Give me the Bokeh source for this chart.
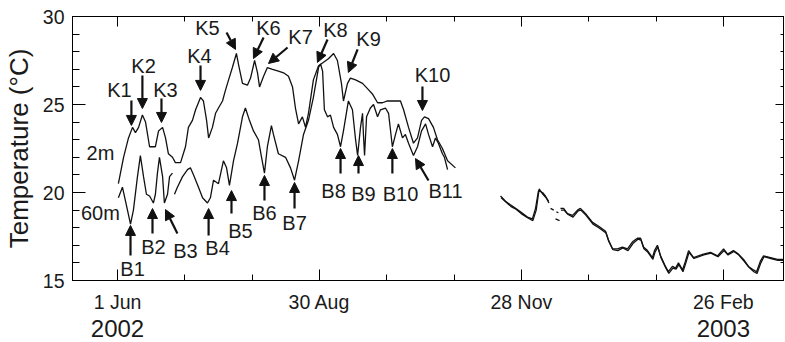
import numpy as np
from bokeh.plotting import figure
from bokeh.models import Range1d, FixedTicker, LinearAxis, Arrow, NormalHead, ColumnDataSource
from bokeh.embed import file_html
from bokeh.resources import INLINE
from bokeh.core.properties import value

FONT = "Liberation Sans"
nan = float("nan")

# time in days since 1 Jun 2002
day_2m = [0.4, 2.7, 4.9, 6.7, 8.0, 9.4, 11.1, 12.5, 14.3, 16.9, 18.3, 20.1, 21.4, 22.7, 24.5, 25.8,
          28.1, 30.3, 31.6, 33.4, 34.8, 37.0, 38.3, 39.7, 40.6, 42.3, 43.7, 45.0, 46.8, 48.1, 49.5,
          51.2, 53.0, 53.9, 55.7, 57.9, 59.3, 61.1, 62.4, 63.3, 65.1, 66.8, 69.1, 71.7, 74.0, 76.2,
          78.0, 79.3, 80.7, 82.4, 83.8, 85.1, 87.3, 89.6, 91.8, 94.0, 96.3, 98.0, 99.8, 100.7, 102.5,
          103.8, 106.1, 109.2, 111.4, 113.6, 115.9, 118.1, 120.3, 123.0, 126.1, 127.5, 129.7, 131.9,
          133.7, 135.5, 136.8, 138.6, 140.8, 142.6, 144.8, 147.1, 150.6]
temp_2m = [20.5, 22.0, 23.1, 23.7, 23.4, 23.7, 24.4, 24.0, 22.6, 22.6, 23.5, 23.7, 23.1, 22.2, 22.0, 21.7,
           21.7, 22.6, 23.7, 24.1, 24.7, 25.4, 25.2, 24.1, 23.1, 23.7, 24.5, 24.8, 25.2, 25.8, 26.4,
           27.1, 27.9, 27.3, 26.2, 26.1, 26.5, 27.5, 26.8, 26.0, 26.6, 27.1, 27.0, 26.9, 26.8, 26.6,
           26.0, 24.8, 23.9, 24.3, 23.7, 24.5, 26.4, 27.2, 27.4, 27.6, 27.9, 27.5, 26.2, 25.2, 26.2,
           26.5, 26.4, 26.2, 25.9, 25.6, 25.1, 25.1, 25.2, 25.2, 25.2, 24.7, 23.7, 22.8,
           23.1, 24.1, 24.3, 24.2, 23.7, 23.0, 22.5, 21.8, 21.4]

day_60m = [0.4, 2.2, 3.6, 5.8, 7.1, 8.9, 10.2, 11.6, 12.9, 14.3, 16.0, 16.9, 17.8, 18.7, 20.1, 20.9,
           22.3, 23.2, 24.5, nan, 25.4, 26.7, 29.0, 31.2, 32.5, 33.9, 36.1, 37.9, 40.1, 41.4, 42.8,
           45.0, 47.2, 48.6, 49.9, 51.7, 53.5, 55.7, 57.0, 58.8, 60.6, 62.8, 64.2, 65.5, 66.8, 68.6,
           69.5, 71.7, 74.9, 77.1, 78.9, 80.7, 82.9, 85.1, 87.3, 89.6, 90.5, 91.4, 92.2, 93.6, 94.9,
           96.3, 98.0, 99.4, 100.7, 102.9, 104.7, 106.1, 107.0, 108.3, 109.2, 109.6, 110.1, 111.0,
           112.7, 114.1, 115.9, 117.2, 119.4, 120.8, 122.5, 123.9, 125.2, 127.0, 128.3, 129.7, 131.9,
           133.7, 135.5, 137.3, 138.6, 140.4, 141.7, 143.0, 144.8, 145.7, 147.1]
temp_60m = [19.7, 20.3, 19.5, 18.2, 19.0, 20.9, 22.1, 20.9, 19.9, 19.8, 19.4, 19.9, 21.1, 22.0, 20.9, 19.4,
            19.9, 20.9, 21.1, nan, 19.9, 20.3, 20.9, 21.3, 21.4, 21.0, 20.3, 19.7, 19.4, 19.7, 20.7,
            20.5, 21.8, 21.4, 20.4, 21.8, 22.8, 24.3, 24.8, 24.1, 23.5, 23.0, 22.0, 21.1, 22.6, 23.8,
            23.3, 22.2, 22.0, 21.4, 20.7, 21.8, 23.3, 24.1, 25.4, 27.1, 27.3, 26.9, 24.7, 24.3, 24.4,
            23.7, 23.3, 22.6, 23.5, 25.2, 24.7, 23.0, 22.1, 23.7, 24.5, 23.3, 22.1, 24.3,
            24.8, 25.0, 24.3, 24.7, 24.8, 24.5, 22.6, 23.3, 23.9, 23.1, 23.3, 22.8, 22.1,
            22.6, 23.5, 23.9, 23.3, 22.6, 23.1, 22.8, 22.2, 22.0, 21.3]

day_2m_winter = [170.7, 172.9, 175.1, 177.4, 179.6, 182.7, 184.9, 186.3, 187.6, 189.4, 190.7, 192.1, nan,
                 193.0, 194.4, nan, 195.6, 196.5, nan, 197.4, 198.8, 200.5, 202.8, 205.0, 206.3, 208.6,
                 211.7, 214.3, 217.5, 218.8, 220.6, 222.8, 225.0, 227.3, 229.5, 231.7, 233.1, 234.4,
                 236.2, 238.4, 239.3, 240.6, 242.0, 244.2, 245.5, 247.3, 248.7, 250.0, 251.8, 253.1,
                 254.5, 256.7, 258.9, 261.1, 264.3, 267.4, 270.1, 271.9, 274.5, 276.7, 279.0, 281.2,
                 283.4, 284.8, 286.5, 287.9, 291.0, 294.1, 296.8]
temp_2m_winter = [19.8, 19.5, 19.3, 19.1, 18.9, 18.6, 18.5, 19.1, 20.1, 20.0, 19.8, 19.5, nan,
                  19.1, 19.0, nan, 18.9, 18.85, nan, 19.1, 19.1, 18.8, 18.7, 19.0, 19.1, 18.8,
                  18.3, 18.1, 17.8, 17.3, 16.8, 16.8, 16.9, 16.8, 17.2, 17.4, 17.4, 16.9,
                  16.7, 16.3, 16.7, 17.0, 16.4, 15.8, 15.5, 15.8, 15.7, 16.0, 15.6, 16.1,
                  16.7, 16.3, 16.4, 16.5, 16.6, 16.4, 16.8, 16.5, 16.7, 16.5, 16.2, 15.8,
                  15.6, 15.5, 16.1, 16.4, 16.3, 16.2, 16.2]

day_60m_winter = [171.0, 173.2, 175.4, 177.6, 179.9, 182.9, 185.1, 186.6, 187.9, 189.6, 191.0, 192.3, nan,
                  195.2, 197.0, nan, 197.6, 199.0, 200.8, 203.0, 205.2, 206.5, 208.8, 211.9, 214.5,
                  217.7, 219.0, 220.8, 223.0, 225.2, 227.5, 229.7, 231.9, 233.3, 234.6, 236.4, 238.6,
                  239.5, 240.8, 242.2, 244.4, 245.7, 247.5, 248.9, 250.2, 252.0, 253.3, 254.7, 256.9,
                  259.1, 261.3, 264.5, 267.6, 270.3, 272.1, 274.7, 276.9, 279.2, 281.4, 283.6, 285.0,
                  286.7, 288.1, 291.2, 294.3, 296.8]
temp_60m_winter = [19.7, 19.45, 19.2, 19.05, 18.8, 18.55, 18.4, 19.0, 20.2, 19.9, 19.7, 19.4, nan,
                   18.5, 18.4, nan, 19.0, 19.0, 18.75, 18.6, 18.95, 19.0, 18.7, 18.2, 18.0,
                   17.7, 17.2, 16.75, 16.7, 16.85, 16.7, 17.1, 17.35, 17.3, 16.8, 16.6, 16.2,
                   16.6, 16.9, 16.3, 15.7, 15.4, 15.7, 15.65, 15.9, 15.5, 16.0, 16.6, 16.25,
                   16.35, 16.45, 16.55, 16.35, 16.7, 16.45, 16.65, 16.45, 16.1, 15.75, 15.5, 15.4,
                   16.0, 16.35, 16.25, 16.15, 16.15]

tick_days = [0, 90, 180, 270]
tick_labels = ["1 Jun", "30 Aug", "28 Nov", "26 Feb"]
minor_tick_days = [0, 30, 60, 90, 120, 150, 180, 210, 240, 270]
year_days = [0, 270]
year_labels = ["2002", "2003"]
y_ticks = [15, 20, 25, 30]
y_minor = list(range(15, 31))

# event annotations: label, label position, arrow tail, arrow tip (day, degC)
ann_labels = ["K1", "K2", "K3", "K4", "K5", "K6", "K7", "K8", "K9", "K10",
              "B1", "B2", "B3", "B4", "B5", "B6", "B7", "B8", "B9", "B10", "B11"]
ann_text_day = [0.9, 11.6, 21.4, 36.5, 40.1, 67.3, 81.6, 97.1, 111.9, 140.4,
                6.7, 16.0, 30.3, 44.6, 54.8, 65.5, 78.9, 96.3, 109.6, 126.1, 146.2]
ann_text_temp = [25.85, 27.16, 25.85, 27.78, 29.32, 29.32, 28.86, 29.26, 28.75, 26.65,
                 15.68, 16.88, 16.70, 16.82, 17.84, 18.81, 18.24, 20.11, 19.94, 19.94, 20.11]
ann_tail_day = [6.2, 11.1, 19.6, 37.0, 48.6, 65.1, 75.8, 93.6, 107.0, 135.9,
                5.8, 15.6, 26.7, 40.6, 50.8, 65.5, 78.9, 99.4, 107.4, 122.5, 138.6]
ann_tail_temp = [25.23, 26.65, 25.34, 27.22, 29.09, 28.81, 28.24, 28.69, 28.13, 26.02,
                 16.42, 17.67, 17.67, 17.56, 18.81, 19.55, 19.09, 21.08, 21.08, 21.08, 20.68]
ann_tip_day = [6.2, 11.1, 19.6, 37.0, 52.6, 60.6, 67.3, 89.1, 102.9, 135.9,
               5.8, 15.6, 21.4, 40.6, 50.8, 65.5, 78.9, 99.4, 107.4, 122.5, 132.8]
ann_tip_temp = [23.81, 24.77, 23.98, 25.80, 28.13, 27.61, 27.33, 27.39, 26.82, 24.66,
                18.13, 19.09, 19.03, 19.09, 20.11, 20.97, 20.57, 22.50, 22.10, 22.50, 21.93]

depth_labels = ["2m", "60m"]
depth_label_day = [-7.6, -7.6]
depth_label_temp = [22.22, 18.81]

p = figure(width=785, height=342, output_backend="svg", toolbar_location=None,
           x_range=Range1d(-20.05, 296.8), y_range=Range1d(15, 30),
           x_axis_type=None, y_axis_type=None,
           min_border_left=72, min_border_right=2, min_border_top=16, min_border_bottom=62)
p.background_fill_color = "white"
p.border_fill_color = "white"
p.outline_line_color = "black"
p.outline_line_width = 1
p.xgrid.visible = False
p.ygrid.visible = False

def style_common(ax):
    ax.axis_line_color = "black"
    ax.axis_line_width = 1
    ax.major_tick_line_color = "black"
    ax.minor_tick_line_color = "black"
    ax.major_tick_out = 0
    ax.minor_tick_out = 0
    ax.major_label_text_font = FONT
    ax.major_label_text_color = "#1a1a1a"

xb = LinearAxis(ticker=FixedTicker(ticks=tick_days, minor_ticks=minor_tick_days),
                major_label_overrides={d: l for d, l in zip(tick_days, tick_labels)})
style_common(xb)
xb.major_tick_in = 11
xb.minor_tick_in = 6
xb.major_label_standoff = 10
xb.major_label_text_font_size = "19.5px"
p.add_layout(xb, "below")

xyear = LinearAxis(ticker=FixedTicker(ticks=year_days, minor_ticks=[]),
                   major_label_overrides={d: l for d, l in zip(year_days, year_labels)})
style_common(xyear)
xyear.axis_line_color = None
xyear.major_tick_line_color = None
xyear.minor_tick_line_color = None
xyear.major_label_standoff = 4
xyear.major_label_text_font_size = "24px"
p.add_layout(xyear, "below")

xt = LinearAxis(ticker=FixedTicker(ticks=tick_days, minor_ticks=minor_tick_days))
style_common(xt)
xt.major_tick_in = 10
xt.minor_tick_in = 5
xt.major_label_standoff = 0
xt.major_label_text_font_size = "0px"
xt.major_label_text_color = None
p.add_layout(xt, "above")

yl = LinearAxis(ticker=FixedTicker(ticks=y_ticks, minor_ticks=y_minor),
                axis_label="Temperature (°C)")
style_common(yl)
yl.major_tick_in = 13
yl.minor_tick_in = 7
yl.major_label_standoff = 8
yl.major_label_text_font_size = "19.5px"
yl.axis_label_text_font = FONT
yl.axis_label_text_font_size = "26px"
yl.axis_label_text_font_style = "normal"
yl.axis_label_text_color = "#1a1a1a"
yl.axis_label_standoff = 6
p.add_layout(yl, "left")

yr = LinearAxis(ticker=FixedTicker(ticks=y_ticks, minor_ticks=y_minor))
style_common(yr)
yr.major_tick_in = 8
yr.minor_tick_in = 3
yr.major_label_standoff = 0
yr.major_label_text_font_size = "0px"
yr.major_label_text_color = None
p.add_layout(yr, "right")

line_kw = dict(line_color="#111111", line_width=1.3)
p.line(np.array(day_2m), np.array(temp_2m), **line_kw)
p.line(np.array(day_60m), np.array(temp_60m), **line_kw)
p.line(np.array(day_2m_winter), np.array(temp_2m_winter), **line_kw)
p.line(np.array(day_60m_winter), np.array(temp_60m_winter), **line_kw)

arrow_src = ColumnDataSource(dict(xs=ann_tail_day, ys=ann_tail_temp, xe=ann_tip_day, ye=ann_tip_temp))
p.add_layout(Arrow(end=NormalHead(size=10, fill_color="#111111", line_color="#111111"),
                   x_start="xs", y_start="ys", x_end="xe", y_end="ye",
                   line_width=2.2, line_color="#111111", source=arrow_src))

p.text(x=ann_text_day, y=ann_text_temp, text=ann_labels, text_font=value(FONT),
       text_font_size="20px", text_align="center", text_baseline="middle", text_color="#1a1a1a")
p.text(x=depth_label_day, y=depth_label_temp, text=depth_labels, text_font=value(FONT),
       text_font_size="20px", text_align="center", text_baseline="middle", text_color="#1a1a1a")

open("out.html", "w").write(file_html(p, INLINE))
